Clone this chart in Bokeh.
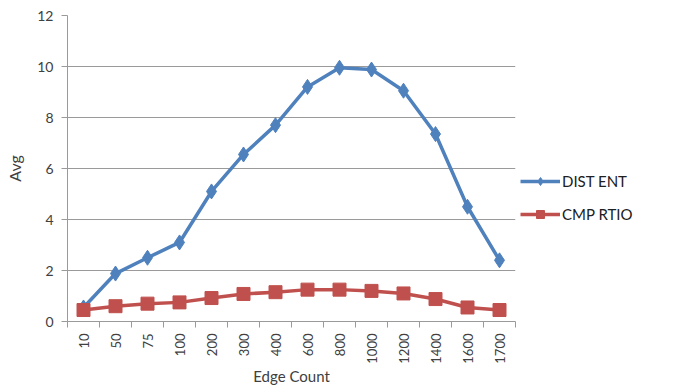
import math
from bokeh.plotting import figure
from bokeh.models import FixedTicker, Legend, LegendItem, Range1d
from bokeh.embed import file_html
from bokeh.resources import INLINE

# Edge-count buckets and averaged measurements per bucket
edge_counts = ["10", "50", "75", "100", "200", "300", "400", "600",
               "800", "1000", "1200", "1400", "1600", "1700"]
dist_ent = [0.55, 1.88, 2.5, 3.1, 5.1, 6.55, 7.7, 9.2,
            9.95, 9.88, 9.05, 7.35, 4.5, 2.4]
cmp_rtio = [0.45, 0.6, 0.7, 0.75, 0.92, 1.08, 1.15, 1.25,
            1.25, 1.2, 1.1, 0.88, 0.55, 0.45]
y_ticks = [0, 2, 4, 6, 8, 10, 12]

FONT = "Lato"
TEXT = "#404040"
GRID = "#9a9a9a"
BLUE = "#4F81BD"
RED = "#C0504D"

n = len(edge_counts)
xs = [i + 0.5 for i in range(n)]

p = figure(frame_width=448, frame_height=306, output_backend="svg",
           toolbar_location=None,
           x_range=Range1d(0, n), y_range=Range1d(0, 12),
           min_border_left=67, min_border_top=15, min_border_bottom=0,
           min_border_right=0)
p.outline_line_color = None
p.background_fill_color = "white"

# category labels at slot centres, tick marks on slot boundaries
p.xaxis.ticker = FixedTicker(ticks=xs, minor_ticks=list(range(n + 1)))
p.xaxis.major_label_overrides = {x: lab for x, lab in zip(xs, edge_counts)}
p.xaxis.major_label_orientation = math.pi / 2
p.xaxis.major_tick_out = 0
p.xaxis.major_tick_in = 0
p.xaxis.minor_tick_out = 6
p.xaxis.minor_tick_in = 0
p.xaxis.axis_label = "Edge Count"

p.yaxis.ticker = FixedTicker(ticks=y_ticks)
p.yaxis.major_tick_out = 6
p.yaxis.major_tick_in = 0
p.yaxis.axis_label = "Avg"

for ax in (p.xaxis, p.yaxis):
    ax.axis_line_color = GRID
    ax.major_tick_line_color = GRID
    ax.major_label_text_font = FONT
    ax.major_label_text_font_size = "14px"
    ax.major_label_text_color = TEXT
    ax.axis_label_text_font = FONT
    ax.axis_label_text_font_size = "16px"
    ax.axis_label_text_font_style = "normal"
    ax.axis_label_text_color = TEXT
p.xaxis.major_label_text_font_size = "13px"
p.xaxis.axis_label_text_font_size = "15px"
p.xaxis.minor_tick_line_color = GRID
p.yaxis.minor_tick_line_color = None
p.xaxis.major_label_standoff = 6
p.yaxis.major_label_standoff = 8
p.xaxis.axis_label_standoff = 0
p.yaxis.axis_label_standoff = 10

p.xgrid.grid_line_color = None
p.ygrid.ticker = FixedTicker(ticks=y_ticks)
p.ygrid.grid_line_color = GRID
p.ygrid.grid_line_width = 1

l1 = p.line(xs, dist_ent, line_color=BLUE, line_width=3.5)
m1 = p.scatter(xs, dist_ent, marker="diamond", size=15, fill_color=BLUE,
               line_color=BLUE)
l2 = p.line(xs, cmp_rtio, line_color=RED, line_width=3.5)
m2 = p.scatter(xs, cmp_rtio, marker="square", size=13, fill_color=RED,
               line_color=RED)

# legend in its own panel to the right of the frame
legend = Legend(items=[LegendItem(label="DIST ENT", renderers=[l1, m1]),
                       LegendItem(label="CMP RTIO", renderers=[l2, m2])],
                location=(5, 97), orientation="vertical",
                border_line_color=None, background_fill_alpha=0,
                label_text_font=FONT, label_text_font_size="15px",
                label_text_color="#202020", glyph_width=40, glyph_height=20,
                spacing=13, label_standoff=2, margin=0, padding=6,
                label_width=105)
p.add_layout(legend, "right")

open("out.html", "w").write(file_html(p, INLINE))
